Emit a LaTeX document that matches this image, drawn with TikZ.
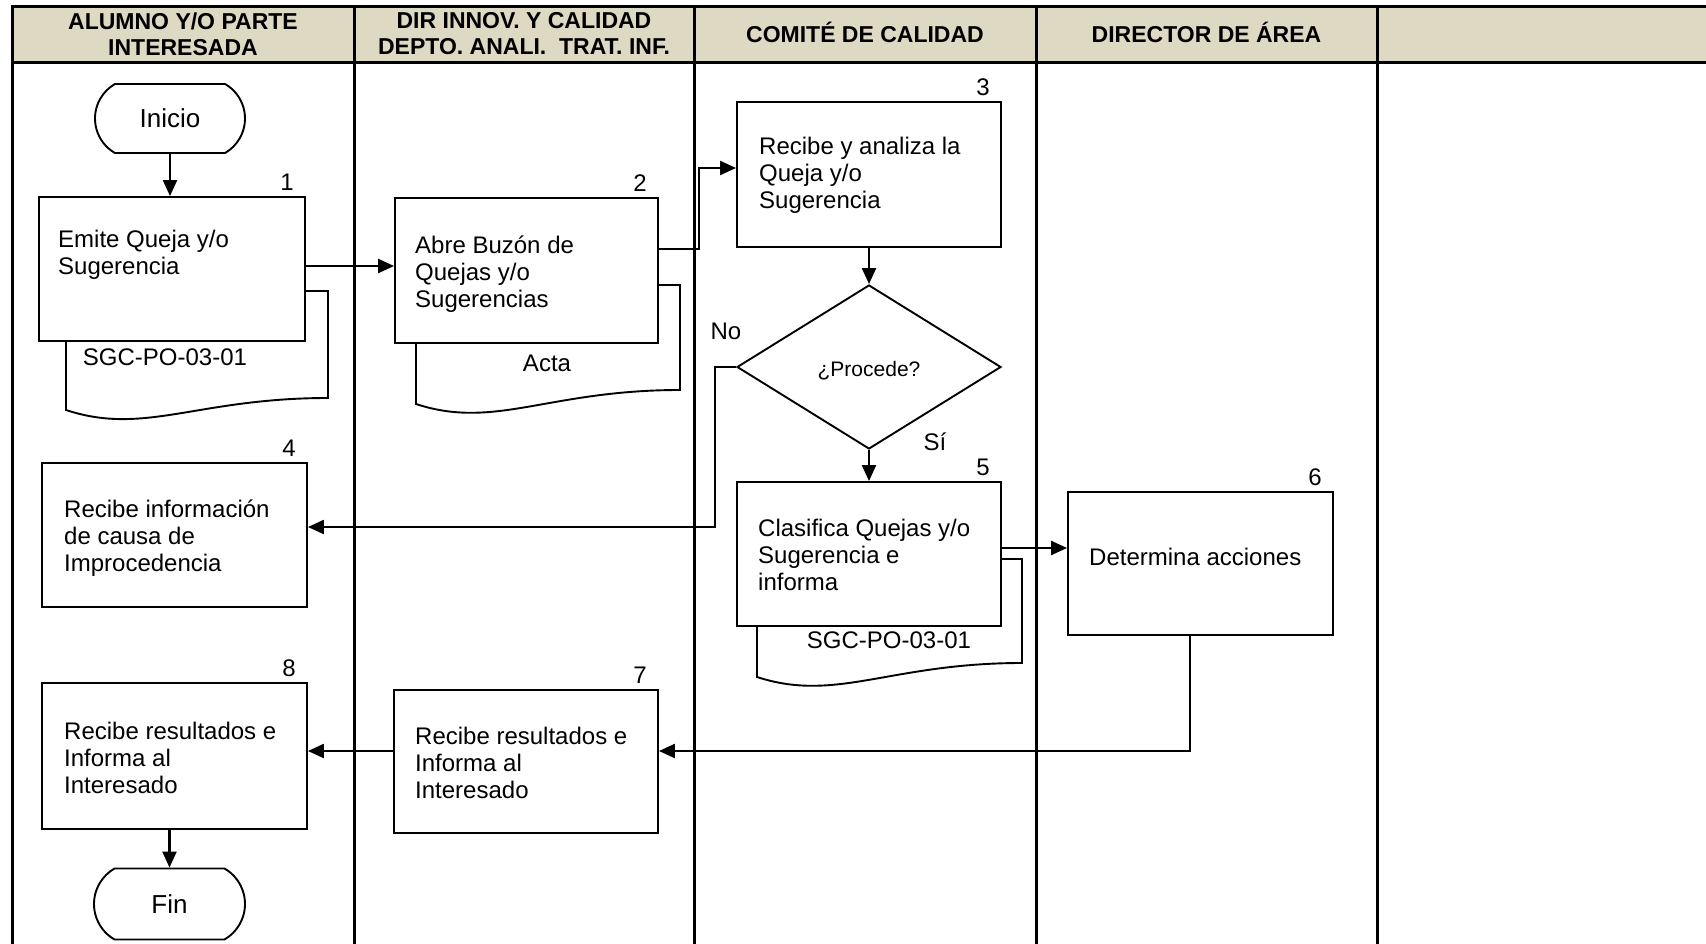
\documentclass[tikz,border=0pt]{standalone}
\usepackage{fontspec}
\setmainfont{Liberation Sans}
\usetikzlibrary{arrows.meta,shapes.geometric,shapes.misc,calc}
\definecolor{hdr}{RGB}{221,217,195}
\begin{document}
\begin{tikzpicture}[x=1pt,y=-1pt,
  bx/.style={draw,line width=1.9pt,fill=white,rectangle,inner sep=0pt},
  txt/.style={anchor=north west,align=left,inner sep=0pt,font=\fontsize{24}{27.3}\selectfont},
  num/.style={anchor=base east,inner sep=0pt,font=\fontsize{24}{27}\selectfont},
  lbl/.style={inner sep=0pt,font=\fontsize{24}{27}\selectfont},
  hd/.style={align=center,inner sep=0pt,font=\bfseries\fontsize{23}{26}\selectfont},
  arr/.style={line width=2.3pt,-{Triangle[length=16pt,width=14pt]}},
  doc/.style={draw,line width=1.9pt,fill=white},
  term/.style={draw,line width=1.9pt,fill=white,rounded rectangle,rounded rectangle arc length=120,inner sep=0pt,font=\fontsize{26}{29}\selectfont},
  lane/.style={line width=3pt}]
\useasboundingbox (0,0) rectangle (1706,944);
% header
\fill[hdr] (12,7) rectangle (1706,63);
\draw[lane] (12,944) -- (12,7) -- (1706,7);
\draw[lane] (12,63) -- (1706,63);
\foreach \xx in {354,694,1036,1377} \draw[lane] (\xx,7) -- (\xx,944);
\node[hd,anchor=north] (h1) at (183,12.3) {ALUMNO Y/O PARTE\\INTERESADA};
\node[hd,anchor=north] (h2) at (524,12.3) {DIR INNOV. Y CALIDAD\\DEPTO. ANALI.~~TRAT. INF.};
\node[hd,anchor=base] (h3) at (865,43) {COMITÉ DE CALIDAD};
\node[hd,anchor=base] (h4) at (1206.5,43) {DIRECTOR DE ÁREA};
% documents
\draw[doc] (66,291) -- (328,291) -- (328,398) .. controls (197,398) and (144.6,436) .. (66,410) -- cycle;
\draw[doc] (416,285) -- (680,285) -- (680,390) .. controls (548,390) and (495,430) .. (416,404) -- cycle;
\draw[doc] (757,559) -- (1022,559) -- (1022,663) .. controls (889.5,663) and (836.5,703) .. (757,677) -- cycle;
\node[lbl] (d1) at (165,357) {SGC-PO-03-01};
\node[lbl] (d2) at (547,363) {Acta};
\node[lbl] (d5) at (889,640) {SGC-PO-03-01};
% terminals
\node[term,minimum width=150pt,minimum height=69pt] (ini) at (170,118.5) {Inicio};
\node[term,minimum width=151pt,minimum height=71pt] (fin) at (169.5,904) {Fin};
% boxes
\node[bx,minimum width=266pt,minimum height=144pt] (b1) at (172,269) {};
\node[bx,minimum width=263pt,minimum height=145pt] (b2) at (526.5,270.5) {};
\node[bx,minimum width=264pt,minimum height=145pt] (b3) at (869,174.5) {};
\node[bx,minimum width=265pt,minimum height=144pt] (b4) at (174.5,535) {};
\node[bx,minimum width=264pt,minimum height=144pt] (b5) at (869,554) {};
\node[bx,minimum width=265pt,minimum height=143pt] (b6) at (1200.5,563.5) {};
\node[bx,minimum width=264pt,minimum height=143pt] (b7) at (526,761.5) {};
\node[bx,minimum width=265pt,minimum height=146pt] (b8) at (174.5,756) {};
\node[draw,line width=1.9pt,fill=white,diamond,minimum width=264pt,minimum height=164pt,inner sep=0pt] (dia) at (869,367) {};
\node[inner sep=0pt,font=\fontsize{21}{24}\selectfont] (pq) at ($(dia.center)+(0,4)$) {¿Procede?};
% box texts
\node[txt] (t1) at (58,229.5) {Emite Queja y/o\\Sugerencia};
\node[txt] (t2) at (415,235.5) {Abre Buzón de\\Quejas y/o\\Sugerencias};
\node[txt] (t3) at (759,136.5) {Recibe y analiza la\\Queja y/o\\Sugerencia};
\node[txt] (t4) at (64,499.5) {Recibe información\\de causa de\\Improcedencia};
\node[txt] (t5) at (758,518.5) {Clasifica Quejas y/o\\Sugerencia e\\informa};
\node[txt] (t6) at (1089,547.5) {Determina acciones};
\node[txt] (t7) at (415,726.5) {Recibe resultados e\\Informa al\\Interesado};
\node[txt] (t8) at (64,721.5) {Recibe resultados e\\Informa al\\Interesado};
% numbers
\node[num] (n1) at ($(b1.north east)+(-12,-6)$) {1};
\node[num] (n2) at ($(b2.north east)+(-12,-6)$) {2};
\node[num] (n3) at ($(b3.north east)+(-12,-6)$) {3};
\node[num] (n4) at ($(b4.north east)+(-12,-6)$) {4};
\node[num] (n5) at ($(b5.north east)+(-12,-6)$) {5};
\node[num] (n6) at ($(b6.north east)+(-12,-6)$) {6};
\node[num] (n7) at ($(b7.north east)+(-12,-6)$) {7};
\node[num] (n8) at ($(b8.north east)+(-12,-6)$) {8};
\node[lbl] (no) at (726,331) {No};
\node[lbl] (si) at (935,442) {Sí};
% connectors
\draw[arr] (ini.south) -- (ini.south |- b1.north);
\coordinate (k1) at ($(b1.east)+(0,-3)$);
\draw[arr] (k1) -- (k1 -| b2.west);
\draw[arr] ($(b2.east)+(0,-21.5)$) -- ++(40,0) |- ($(b3.west)+(0,-6.5)$);
\draw[arr] (b3.south) -- (dia.north);
\draw[arr] (dia.south) -- (b5.north);
\draw[arr] (dia.west) -- ++(-21,0) |- ($(b4.east)+(0,-8)$);
\coordinate (k5) at ($(b5.east)+(0,-6)$);
\draw[arr] (k5) -- (k5 -| b6.west);
\draw[arr] ($(b6.south)+(-10.5,0)$) |- ($(b7.east)+(0,-10.5)$);
\coordinate (k7) at ($(b7.west)+(0,-10.5)$);
\draw[arr] (k7) -- (k7 -| b8.east);
\draw[arr] (b8.south -| fin.north) -- (fin.north);
\end{tikzpicture}
\end{document}
